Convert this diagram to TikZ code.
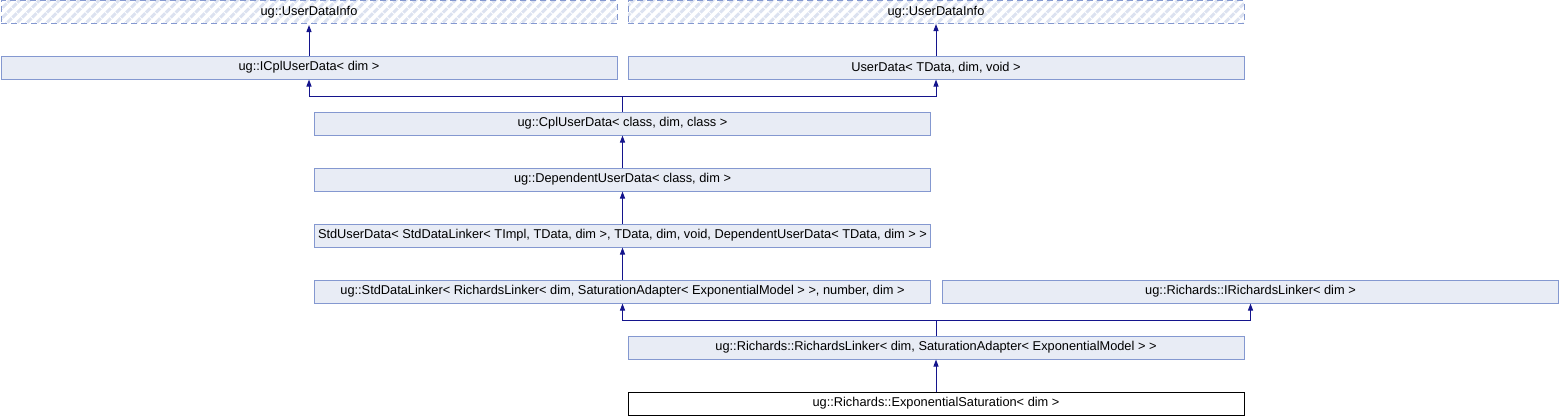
\documentclass[tikz,border=0pt]{standalone}
\usepackage{fontspec}
\setmainfont{Liberation Sans}
\usetikzlibrary{arrows.meta,patterns.meta}
\definecolor{boxfill}{HTML}{E8ECF5}
\definecolor{boxline}{HTML}{8498D0}
\definecolor{edgecol}{HTML}{14148C}
\definecolor{hatchcol}{HTML}{DCE2F0}
\begin{document}
\begin{tikzpicture}[x=1pt,y=-1pt,
  font=\fontsize{12.8}{14}\selectfont,
  cls/.style={draw=boxline, fill=boxfill, line width=1pt, inner sep=0pt,
    minimum height=23pt, minimum width=616pt},
  hid/.style={draw=boxline, line width=1pt, inner sep=0pt,
    minimum height=23pt, minimum width=616pt,
    dash pattern=on 6pt off 4pt,
    pattern={Lines[angle=45,distance=7pt,line width=3pt]}, pattern color=hatchcol},
  cur/.style={draw=black, fill=white, line width=1pt, inner sep=0pt,
    minimum height=23pt, minimum width=616pt},
  edgeline/.style={draw=edgecol, line width=1pt},
  arr/.style={edgeline, -{Triangle[length=7pt,width=5pt]}},
]
\useasboundingbox (0,0) rectangle (1560,416);
\node[hid] (udi1) at (309,12) {ug::UserDataInfo};
\node[hid] (udi2) at (936,12) {ug::UserDataInfo};
\node[cls] (icpl) at (309,67.5) {ug::ICplUserData< dim >};
\node[cls] (ud) at (936,67.5) {UserData< TData, dim, void >};
\node[cls] (cpl) at (622.5,123.5) {ug::CplUserData< class, dim, class >};
\node[cls] (dep) at (622.5,179.5) {ug::DependentUserData< class, dim >};
\node[cls] (std) at (622.5,235.5) {StdUserData< StdDataLinker< TImpl, TData, dim >, TData, dim, void, DependentUserData< TData, dim > >};
\node[cls] (sdl) at (622.5,291.5) {ug::StdDataLinker< RichardsLinker< dim, SaturationAdapter< ExponentialModel > >, number, dim >};
\node[cls] (irl) at (1250.5,291.5) {ug::Richards::IRichardsLinker< dim >};
\node[cls] (rl) at (936,347.5) {ug::Richards::RichardsLinker< dim, SaturationAdapter< ExponentialModel > >};
\node[cur] (es) at (936,403.5) {ug::Richards::ExponentialSaturation< dim >};
\draw[arr] (icpl.north) -- (udi1.south);
\draw[arr] (ud.north) -- (udi2.south);
\draw[edgeline] (cpl.north) -- ++(0,-15) coordinate (j1);
\draw[arr] (j1) -| (icpl.south);
\draw[arr] (j1) -| (ud.south);
\draw[arr] (dep.north) -- (cpl.south);
\draw[arr] (std.north) -- (dep.south);
\draw[arr] (sdl.north) -- (std.south);
\draw[edgeline] (rl.north) -- ++(0,-15) coordinate (j2);
\draw[arr] (j2) -| (sdl.south);
\draw[arr] (j2) -| (irl.south);
\draw[arr] (es.north) -- (rl.south);
\end{tikzpicture}
\end{document}
